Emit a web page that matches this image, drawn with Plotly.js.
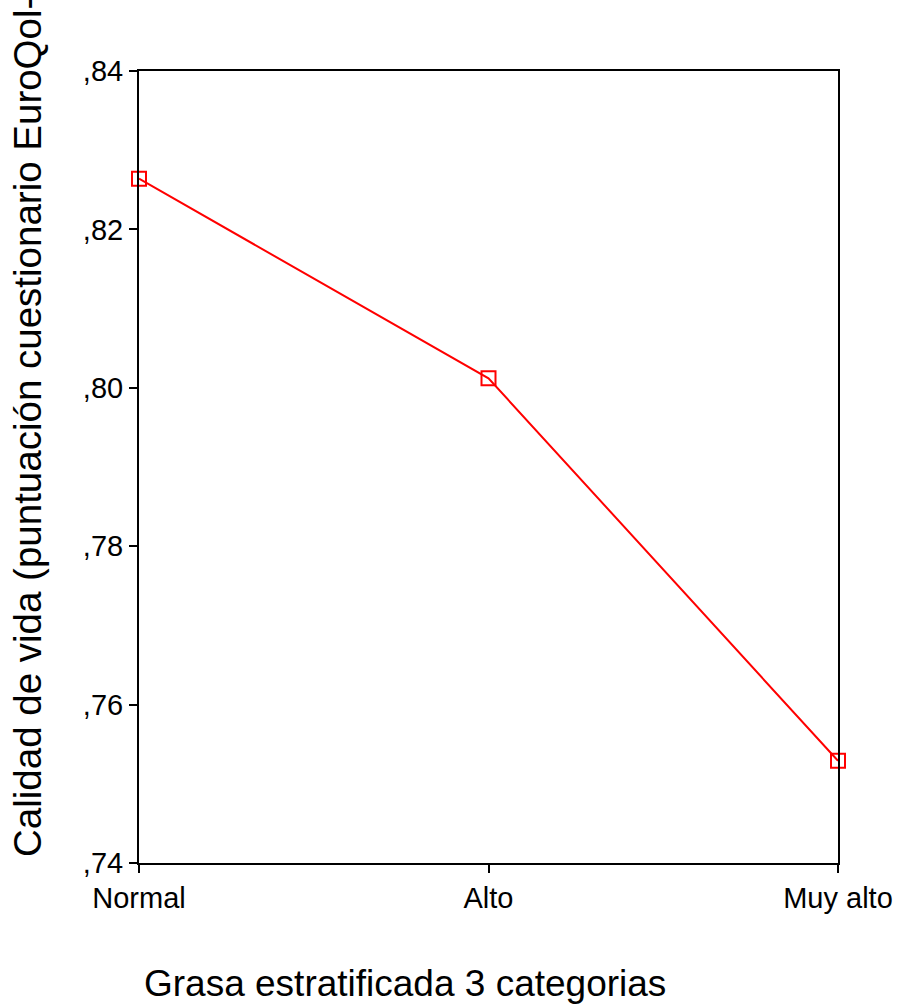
<!DOCTYPE html>
<html>
<head>
<meta charset="utf-8">
<script src="https://cdn.plot.ly/plotly-3.0.1.min.js"></script>
<style>html,body{margin:0;padding:0;background:#fff;}#chart{width:898px;height:1006px;}</style>
</head>
<body>
<div id="chart"></div>
<script>
const categories = ["Normal", "Alto", "Muy alto"];
const values = [0.8264, 0.8012, 0.7529];
const yTickVals = [0.74, 0.76, 0.78, 0.80, 0.82, 0.84];
const yTickText = [",74", ",76", ",78", ",80", ",82", ",84"];
const xTitle = "Grasa estratificada 3 categorias";
const yTitle = "Calidad de vida (puntuación cuestionario EuroQol-5D)";

const W = 898, H = 1006;
const L = 139, R = 60, T = 71, B = 143;
const pw = W - L - R, ph = H - T - B;
const px = x => (x - L) / pw;
const py = y => (H - B - y) / ph;

const font = "Liberation Sans, Arial, sans-serif";

Plotly.newPlot("chart", [{
  type: "scatter",
  mode: "lines+markers",
  x: categories,
  y: values,
  cliponaxis: false,
  line: {color: "#ff0000", width: 2},
  marker: {symbol: "square-open", size: 14, color: "#ff0000", line: {color: "#ff0000", width: 2}}
}], {
  width: W, height: H,
  margin: {l: L, r: R, t: T, b: B, pad: 0},
  paper_bgcolor: "#fff", plot_bgcolor: "#fff",
  showlegend: false,
  font: {family: font, color: "#000", size: 29},
  xaxis: {
    type: "category",
    range: [0, 2],
    showgrid: false, zeroline: false,
    showline: true, linecolor: "#000", linewidth: 2, mirror: true,
    ticks: "outside", ticklen: 8, tickwidth: 2, tickcolor: "#000",
    tickfont: {family: font, size: 29, color: "#000"}
  },
  yaxis: {
    range: [0.74, 0.84],
    tickvals: yTickVals, ticktext: yTickText,
    showgrid: false, zeroline: false,
    showline: true, linecolor: "#000", linewidth: 2, mirror: true,
    ticks: "outside", ticklen: 8, tickwidth: 2, tickcolor: "#000",
    tickfont: {family: font, size: 29, color: "#000"}
  },
  annotations: [
    {text: xTitle, xref: "paper", yref: "paper", x: px(142), y: py(983),
     xanchor: "left", yanchor: "middle", showarrow: false,
     font: {family: font, size: 37, color: "#000"}},
    {text: yTitle, xref: "paper", yref: "paper", x: px(27), y: py(859),
     xanchor: "center", yanchor: "bottom", textangle: -90, showarrow: false,
     font: {family: font, size: 38.5, color: "#000"}}
  ]
}, {displayModeBar: false, staticPlot: true});
</script>
</body>
</html>
